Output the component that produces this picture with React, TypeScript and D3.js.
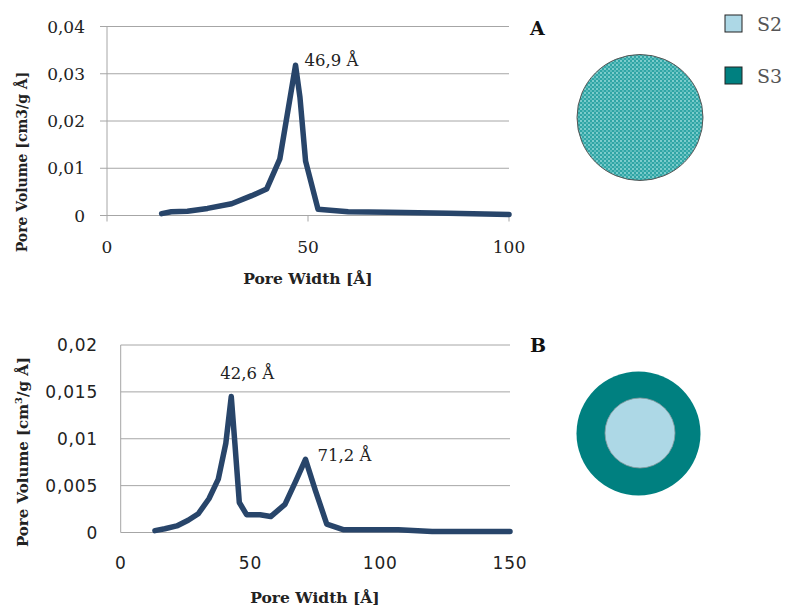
import React, { useRef, useEffect } from "react";
import * as d3 from "d3";

// sample A: pore width [Å] vs pore volume
const widthA = [13.6, 16, 20, 25, 31, 36, 39.7, 43, 46.9, 48, 49.4, 52.5, 60, 70, 85, 100];
const volumeA = [0.0004, 0.0008, 0.0009, 0.0015, 0.0025, 0.0042, 0.0056, 0.012, 0.0318, 0.025, 0.0115, 0.0013, 0.0008, 0.0007, 0.0005, 0.0002];

// sample B
const widthB = [13.2, 17, 21.6, 26, 29.9, 34, 37.6, 40.5, 42.6, 44, 45.7, 48.5, 53.7, 57.8, 63.3, 67.5, 71.2, 75, 79.4, 85.7, 95, 107, 120, 135, 150];
const volumeB = [0.0002, 0.0004, 0.0007, 0.0013, 0.002, 0.0036, 0.0057, 0.0095, 0.0145, 0.0095, 0.0032, 0.0019, 0.0019, 0.0017, 0.003, 0.0055, 0.0078, 0.0045, 0.0009, 0.0003, 0.0003, 0.0003, 0.0001, 0.0001, 0.0001];

const ticksYA = [0, 0.01, 0.02, 0.03, 0.04];
const ticksXA = [0, 50, 100];
const ticksYB = [0, 0.005, 0.01, 0.015, 0.02];
const ticksXB = [0, 50, 100, 150];

const peakA = [46.9, 0.0318];
const peaksB = [[42.6, 0.0145], [71.2, 0.0078]];

const legendNames = ["S2", "S3"];
const legendColors = ["#add8e6", "#008080"];

const lineColor = "#28456a";
const gridColor = "#a6a6a6";
const serif = "'DejaVu Serif', serif";
const sans = "'DejaVu Sans', sans-serif";

const fmt = (v: number) => String(v).replace(".", ",");

export default function App() {
  const svgRef = useRef<SVGSVGElement>(null);

  useEffect(() => {
    const svg = d3.select(svgRef.current);
    svg.selectAll("*").remove();

    // check pattern for circle A
    const defs = svg.append("defs");
    const pat = defs.append("pattern")
      .attr("id", "check")
      .attr("width", 4)
      .attr("height", 4)
      .attr("patternUnits", "userSpaceOnUse");
    pat.append("rect").attr("width", 4).attr("height", 4).attr("fill", "#2fa5a5");
    pat.append("rect").attr("width", 2).attr("height", 2).attr("fill", "#7ccccc");
    pat.append("rect").attr("x", 2).attr("y", 2).attr("width", 2).attr("height", 2).attr("fill", "#5cbcbc");

    // ---------- chart A ----------
    const xA = d3.scaleLinear().domain([0, 100]).range([107, 509]);
    const yA = d3.scaleLinear().domain([0, 0.04]).range([215.5, 26.5]);
    const gA = svg.append("g");

    gA.selectAll(".grid")
      .data(ticksYA.slice(1))
      .enter()
      .append("line")
      .attr("x1", xA(0))
      .attr("x2", xA(100))
      .attr("y1", (d) => yA(d))
      .attr("y2", (d) => yA(d))
      .attr("stroke", gridColor);

    // ticks sit outside the plot
    gA.selectAll(".ytick")
      .data(ticksYA)
      .enter()
      .append("line")
      .attr("x1", xA(0) - 7)
      .attr("x2", xA(0))
      .attr("y1", (d) => yA(d))
      .attr("y2", (d) => yA(d))
      .attr("stroke", gridColor);
    gA.selectAll(".xtick")
      .data(ticksXA)
      .enter()
      .append("line")
      .attr("x1", (d) => xA(d))
      .attr("x2", (d) => xA(d))
      .attr("y1", yA(0))
      .attr("y2", yA(0) + 6)
      .attr("stroke", gridColor);
    gA.append("line")
      .attr("x1", xA(0)).attr("x2", xA(0))
      .attr("y1", yA(0.04)).attr("y2", yA(0))
      .attr("stroke", gridColor);
    gA.append("line")
      .attr("x1", xA(0)).attr("x2", xA(100))
      .attr("y1", yA(0)).attr("y2", yA(0))
      .attr("stroke", gridColor);

    gA.selectAll(".ylab")
      .data(ticksYA)
      .enter()
      .append("text")
      .attr("x", 85)
      .attr("y", (d) => yA(d) + 6)
      .attr("text-anchor", "end")
      .attr("font-family", serif)
      .attr("font-size", 17)
      .attr("fill", "#222")
      .text(fmt);
    gA.selectAll(".xlab")
      .data(ticksXA)
      .enter()
      .append("text")
      .attr("x", (d) => xA(d))
      .attr("y", 253)
      .attr("text-anchor", "middle")
      .attr("font-family", serif)
      .attr("font-size", 17)
      .attr("fill", "#222")
      .text(fmt);

    gA.append("text")
      .attr("x", 308)
      .attr("y", 284)
      .attr("text-anchor", "middle")
      .attr("font-family", serif)
      .attr("font-weight", "bold")
      .attr("font-size", 15.5)
      .attr("fill", "#222")
      .text("Pore Width [Å]");
    gA.append("text")
      .attr("transform", "translate(27,162) rotate(-90)")
      .attr("text-anchor", "middle")
      .attr("font-family", serif)
      .attr("font-weight", "bold")
      .attr("font-size", 14)
      .attr("fill", "#222")
      .text("Pore Volume [cm3/g Å]");

    const lineA = d3.line<number>()
      .x((d, i) => xA(widthA[i]))
      .y((d) => yA(d));
    gA.append("path")
      .attr("d", lineA(volumeA))
      .attr("fill", "none")
      .attr("stroke", lineColor)
      .attr("stroke-width", 5.5)
      .attr("stroke-linejoin", "round")
      .attr("stroke-linecap", "round");

    gA.append("text")
      .attr("x", xA(peakA[0]) + 9)
      .attr("y", yA(peakA[1]) + 1)
      .attr("font-family", serif)
      .attr("font-size", 16.5)
      .attr("fill", "#222")
      .text(`${fmt(peakA[0])} Å`);

    // ---------- chart B ----------
    const xB = d3.scaleLinear().domain([0, 150]).range([120.7, 510]);
    const yB = d3.scaleLinear().domain([0, 0.02]).range([532.5, 345]);
    const gB = svg.append("g");

    gB.selectAll(".grid")
      .data(ticksYB.slice(1))
      .enter()
      .append("line")
      .attr("x1", xB(0))
      .attr("x2", xB(150))
      .attr("y1", (d) => yB(d))
      .attr("y2", (d) => yB(d))
      .attr("stroke", gridColor);
    gB.append("line")
      .attr("x1", xB(0)).attr("x2", xB(0))
      .attr("y1", yB(0.02)).attr("y2", yB(0))
      .attr("stroke", gridColor);
    gB.append("line")
      .attr("x1", xB(0)).attr("x2", xB(150))
      .attr("y1", yB(0)).attr("y2", yB(0))
      .attr("stroke", gridColor);

    gB.selectAll(".ylab")
      .data(ticksYB)
      .enter()
      .append("text")
      .attr("x", 98)
      .attr("y", (d) => yB(d) + 6)
      .attr("text-anchor", "end")
      .attr("font-family", sans)
      .attr("font-size", 17)
      .attr("letter-spacing", 0.8)
      .attr("fill", "#222")
      .text(fmt);
    gB.selectAll(".xlab")
      .data(ticksXB)
      .enter()
      .append("text")
      .attr("x", (d) => xB(d))
      .attr("y", 569)
      .attr("text-anchor", "middle")
      .attr("font-family", sans)
      .attr("font-size", 17)
      .attr("letter-spacing", 0.8)
      .attr("fill", "#222")
      .text(fmt);

    gB.append("text")
      .attr("x", 315)
      .attr("y", 603)
      .attr("text-anchor", "middle")
      .attr("font-family", serif)
      .attr("font-weight", "bold")
      .attr("font-size", 15.5)
      .attr("fill", "#222")
      .text("Pore Width [Å]");
    const yt = gB.append("text")
      .attr("transform", "translate(28,452) rotate(-90)")
      .attr("text-anchor", "middle")
      .attr("font-family", serif)
      .attr("font-weight", "bold")
      .attr("font-size", 15)
      .attr("fill", "#222");
    yt.append("tspan").text("Pore Volume [cm");
    yt.append("tspan").attr("font-size", 10).attr("dy", -6).text("3");
    yt.append("tspan").attr("dy", 6).text("/g Å]");

    const lineB = d3.line<number>()
      .x((d, i) => xB(widthB[i]))
      .y((d) => yB(d));
    gB.append("path")
      .attr("d", lineB(volumeB))
      .attr("fill", "none")
      .attr("stroke", lineColor)
      .attr("stroke-width", 5.5)
      .attr("stroke-linejoin", "round")
      .attr("stroke-linecap", "round");

    gB.append("text")
      .attr("x", xB(peaksB[0][0]) - 11)
      .attr("y", yB(peaksB[0][1]) - 18)
      .attr("font-family", serif)
      .attr("font-size", 16.5)
      .attr("fill", "#222")
      .text(`${fmt(peaksB[0][0])} Å`);
    gB.append("text")
      .attr("x", xB(peaksB[1][0]) + 12)
      .attr("y", yB(peaksB[1][1]) + 2)
      .attr("font-family", serif)
      .attr("font-size", 16.5)
      .attr("fill", "#222")
      .text(`${fmt(peaksB[1][0])} Å`);

    // ---------- panel letters, circles, legend ----------
    svg.append("text")
      .attr("x", 530).attr("y", 35)
      .attr("font-family", serif).attr("font-weight", "bold")
      .attr("font-size", 19).attr("fill", "#111")
      .text("A");
    svg.append("text")
      .attr("x", 530).attr("y", 352)
      .attr("font-family", serif).attr("font-weight", "bold")
      .attr("font-size", 19).attr("fill", "#111")
      .text("B");

    svg.append("circle")
      .attr("cx", 640).attr("cy", 117.5).attr("r", 63)
      .attr("fill", "url(#check)")
      .attr("stroke", "#555").attr("stroke-width", 1);

    svg.append("circle")
      .attr("cx", 638.5).attr("cy", 433.5).attr("r", 62)
      .attr("fill", legendColors[1]);
    svg.append("circle")
      .attr("cx", 640).attr("cy", 433).attr("r", 35)
      .attr("fill", legendColors[0])
      .attr("stroke", "#8a9aa0").attr("stroke-width", 0.8);

    const leg = svg.append("g");
    leg.selectAll("rect")
      .data(legendNames)
      .enter()
      .append("rect")
      .attr("x", 725)
      .attr("y", (d, i) => 15 + i * 52)
      .attr("width", 17)
      .attr("height", 17)
      .attr("fill", (d, i) => legendColors[i])
      .attr("stroke", "#222")
      .attr("stroke-width", 1);
    leg.selectAll("text")
      .data(legendNames)
      .enter()
      .append("text")
      .attr("x", 757)
      .attr("y", (d, i) => 31 + i * 52)
      .attr("font-family", serif)
      .attr("font-size", 19)
      .attr("fill", "#555")
      .text((d) => d);
  }, []);

  return (
    <svg
      ref={svgRef}
      width={787}
      height={608}
      style={{ position: "absolute", left: 0, top: 0, background: "white" }}
    />
  );
}
